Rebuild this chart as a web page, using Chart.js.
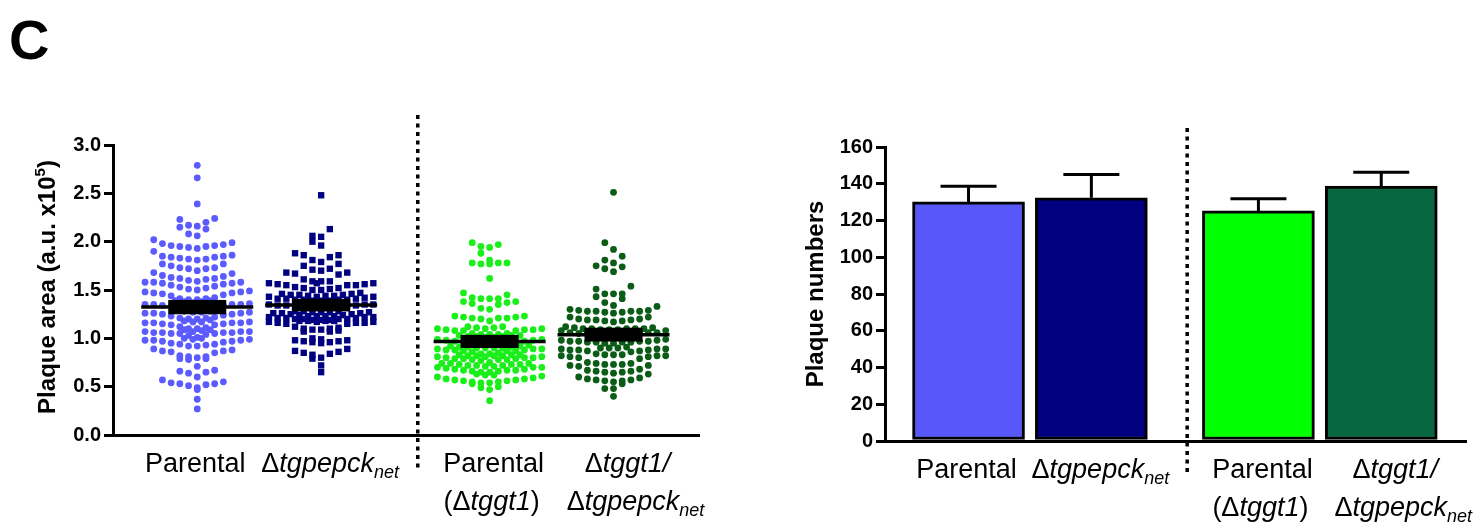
<!DOCTYPE html>
<html>
<head>
<meta charset="utf-8">
<script src="https://cdn.jsdelivr.net/npm/chart.js@4.4.1/dist/chart.umd.min.js"></script>
<style>
  html, body { margin: 0; padding: 0; background: #fff; }
  #wrap { position: relative; width: 1479px; height: 522px; overflow: hidden; }
  #areaBox { position: absolute; left: 0; top: 0; width: 740px; height: 522px; }
  #countBox { position: absolute; left: 740px; top: 0; width: 739px; height: 522px; }
</style>
</head>
<body>
<div id="wrap">
  <div id="areaBox"><canvas id="areaChart"></canvas></div>
  <div id="countBox"><canvas id="countChart"></canvas></div>
</div>
<script>
// ---- data ----
// category labels: *italic*, _{subscript}
const groups = [
    ['Parental'],
    ['Δ*tgpepck*_{net}'],
    ['Parental', '(Δ*tggt1*)'],
    ['Δ*tggt1/*', 'Δ*tgpepck*_{net}']
];

// plaque area (a.u. x10^5), one value per plaque
const parentalArea = [
    2.79, 2.66, 2.39,
    2.24, 2.23, 2.20,
    2.17, 2.16, 2.15, 2.13,
    2.08, 2.06, 2.02,
    1.99, 1.98, 1.97, 1.96, 1.96, 1.95, 1.95, 1.94, 1.93,
    1.90,
    1.86, 1.85, 1.85, 1.84, 1.84, 1.83, 1.82, 1.82, 1.81,
    1.77, 1.77, 1.75, 1.73, 1.73, 1.72, 1.72, 1.70,
    1.68, 1.67, 1.65, 1.64, 1.63, 1.62, 1.62, 1.61, 1.60,
    1.59, 1.58, 1.58, 1.58, 1.57, 1.57, 1.56, 1.55, 1.54, 1.53, 1.52, 1.51, 1.50,
    1.49, 1.48, 1.48, 1.47, 1.47, 1.46, 1.45, 1.44,
    1.42, 1.41, 1.41, 1.40, 1.40, 1.39, 1.39, 1.38, 1.38, 1.37,
    1.36, 1.35, 1.35, 1.35, 1.35, 1.34, 1.34, 1.34, 1.34, 1.33, 1.33, 1.32, 1.31,
    1.29, 1.28, 1.28, 1.27, 1.27, 1.27, 1.26, 1.26, 1.26, 1.25, 1.25, 1.24, 1.23,
    1.22, 1.21, 1.21, 1.20, 1.20, 1.19,
    1.18, 1.17, 1.17, 1.17, 1.16, 1.16, 1.16, 1.16, 1.15, 1.15, 1.14, 1.14,
    1.12, 1.11, 1.10, 1.10, 1.09, 1.09, 1.08,
    1.07, 1.07, 1.07, 1.07, 1.06, 1.06, 1.06, 1.06, 1.05, 1.05, 1.05, 1.04, 1.03,
    1.01, 1.00, 1.00, 0.99, 0.99, 0.98, 0.98, 0.98, 0.97, 0.97,
    0.96, 0.95, 0.94, 0.94, 0.93, 0.92, 0.92,
    0.89, 0.88, 0.87, 0.87, 0.86, 0.85,
    0.82, 0.81, 0.81, 0.80, 0.79, 0.79, 0.78,
    0.71,
    0.67, 0.66, 0.65, 0.64,
    0.60,
    0.57, 0.55, 0.54, 0.53, 0.53, 0.52, 0.51, 0.49, 0.47,
    0.37, 0.27
];
const pepckArea = [
    2.48,
    2.13, 2.06, 2.05, 2.00, 1.96,
    1.88, 1.86, 1.86, 1.84, 1.81,
    1.79, 1.77, 1.75,
    1.72, 1.71, 1.70, 1.68, 1.68, 1.67, 1.66,
    1.61, 1.59, 1.59, 1.59, 1.57, 1.57, 1.57, 1.56, 1.56, 1.55, 1.55, 1.55,
    1.53, 1.52, 1.52, 1.51, 1.50, 1.50,
    1.47, 1.46, 1.46, 1.45, 1.45, 1.45, 1.44, 1.44, 1.44, 1.43, 1.43, 1.43, 1.42,
    1.41, 1.41, 1.41, 1.40, 1.40, 1.40, 1.40, 1.39, 1.39, 1.39, 1.38, 1.38, 1.38,
    1.36, 1.35, 1.35, 1.35, 1.34, 1.34, 1.34, 1.34, 1.33, 1.33, 1.33, 1.32, 1.32,
    1.29, 1.28, 1.28, 1.28, 1.27, 1.27, 1.27, 1.27, 1.26, 1.26, 1.26, 1.25, 1.25,
    1.24, 1.24, 1.23, 1.23, 1.23, 1.23, 1.22, 1.22, 1.22, 1.21, 1.21, 1.21, 1.20, 1.20, 1.20, 1.20, 1.19, 1.19,
    1.19, 1.18, 1.18, 1.18, 1.18, 1.17, 1.17, 1.17, 1.16, 1.16, 1.16, 1.15, 1.15,
    1.12, 1.11, 1.10, 1.10, 1.09, 1.09, 1.08, 1.07, 1.07,
    1.00, 0.99, 0.98, 0.98, 0.97, 0.97, 0.96, 0.96, 0.95,
    0.89, 0.87, 0.86, 0.85, 0.84, 0.83,
    0.80, 0.79,
    0.72, 0.65
];
const parentalGgt1Area = [
    1.99, 1.97, 1.95, 1.94, 1.88, 1.81, 1.78, 1.78, 1.78, 1.77, 1.77,
    1.62,
    1.47, 1.45, 1.42, 1.41, 1.41, 1.41, 1.38, 1.38, 1.37, 1.36, 1.35,
    1.31, 1.30,
    1.23, 1.23, 1.22, 1.22, 1.21, 1.21, 1.21, 1.20, 1.18,
    1.12, 1.12, 1.11, 1.11, 1.10, 1.10, 1.10, 1.09, 1.09, 1.09, 1.08, 1.08, 1.08,
    1.05, 1.05, 1.04, 1.04, 1.04, 1.03, 1.03, 1.03, 1.02, 1.02, 1.02, 1.01, 1.01,
    0.99, 0.99, 0.98, 0.98, 0.97, 0.97, 0.97, 0.96, 0.96, 0.96, 0.95, 0.95, 0.94,
    0.93, 0.92, 0.92, 0.91, 0.91, 0.91, 0.90, 0.90, 0.90, 0.90, 0.89, 0.89, 0.89, 0.88, 0.88, 0.88, 0.87, 0.87, 0.87, 0.86,
    0.85, 0.84, 0.84, 0.83, 0.83, 0.83, 0.82, 0.82, 0.82, 0.82, 0.81, 0.81, 0.81, 0.80, 0.80, 0.80, 0.79, 0.79, 0.79, 0.78, 0.78, 0.78, 0.77,
    0.75, 0.74, 0.74, 0.74, 0.73, 0.73, 0.73, 0.72, 0.72, 0.72, 0.71, 0.71, 0.70, 0.70, 0.70,
    0.69, 0.68, 0.68, 0.67, 0.67, 0.67, 0.66, 0.66, 0.65, 0.65,
    0.63, 0.62, 0.62, 0.61,
    0.60, 0.59, 0.58, 0.58, 0.57, 0.57, 0.56, 0.56, 0.55, 0.55, 0.54, 0.54, 0.53,
    0.50, 0.49, 0.47, 0.355
];
const ggt1PepckArea = [
    2.51,
    1.99, 1.92, 1.85, 1.81, 1.78,
    1.75, 1.74, 1.72, 1.69,
    1.54, 1.51, 1.46, 1.46, 1.46, 1.43, 1.41,
    1.37, 1.34, 1.33,
    1.30, 1.29, 1.29, 1.28, 1.28, 1.28, 1.28, 1.27, 1.27, 1.26,
    1.22, 1.22,
    1.20, 1.20, 1.19, 1.19, 1.19, 1.18, 1.18, 1.17,
    1.12, 1.11, 1.11, 1.10, 1.10, 1.10, 1.10, 1.10, 1.09, 1.09, 1.09, 1.08, 1.08,
    1.06, 1.06, 1.06, 1.05, 1.05, 1.05, 1.05, 1.05, 1.04, 1.04, 1.04, 1.03, 1.03,
    0.99, 0.98, 0.98, 0.97, 0.97, 0.97, 0.97, 0.96, 0.96, 0.96, 0.96, 0.95, 0.95,
    0.91, 0.90, 0.90, 0.90, 0.89, 0.89, 0.89, 0.88, 0.88, 0.88, 0.87, 0.87, 0.86,
    0.84, 0.83, 0.83, 0.83, 0.82, 0.82, 0.82, 0.81, 0.81, 0.80, 0.79,
    0.75, 0.74, 0.74, 0.73, 0.73, 0.73, 0.72, 0.72, 0.71,
    0.68, 0.67, 0.66, 0.66, 0.65, 0.65, 0.64, 0.63,
    0.60, 0.59, 0.58, 0.57, 0.57, 0.56, 0.56, 0.55, 0.53,
    0.48, 0.48, 0.40
];
const areaSeries = [parentalArea, pepckArea, parentalGgt1Area, ggt1PepckArea];

// plaque numbers: mean and upper error
const plaqueMeans = [130.1, 132.4, 125.2, 138.8];
const plaqueErrors = [8.5, 12.7, 6.7, 7.4];

const areaTicks = [0.0, 0.5, 1.0, 1.5, 2.0, 2.5, 3.0];
const countTicks = [0, 20, 40, 60, 80, 100, 120, 140, 160];

// ---- layout / style ----
const FONT = "'Liberation Sans', Arial, Helvetica, sans-serif";
const groupPos = [1, 2, 3.36, 4.36];
const dividerPos = 2.78;
const X_MIN = 0.32, X_MAX = 5.05;
const labelShift = [[-2, 9, 4, 14], [0, 0, 2, 22]];
const dotColors = ['#5b5bff', '#000080', '#1aef1a', '#0b5c17'];
const dotStyles = ['circle', 'rect', 'circle', 'circle'];
const dotRadius = [3.4, 4.5, 3.4, 3.4];
const barColors = ['#5858fa', '#000080', '#00ff00', '#066740'];
const COL_PX = 8.7;   // swarm column spacing
const ROW_PX = 8.7;   // swarm row height
const MAX_COLS = 13;

Chart.defaults.font.family = FONT;
Chart.defaults.color = '#000';

function yAxis(ticksArr, fmt, width) {
    return {
        min: ticksArr[0],
        max: ticksArr[ticksArr.length - 1],
        afterBuildTicks: function(s) { s.ticks = ticksArr.map(function(v) { return {value: v}; }); },
        afterFit: function(s) { s.width = width; },
        border: {display: true, color: '#000', width: 3},
        grid: {drawOnChartArea: false, drawTicks: true, tickLength: 9, tickWidth: 3,
               tickColor: '#000', color: '#000', lineWidth: 3},
        ticks: {color: '#000', padding: 3, font: {family: FONT, size: 20, weight: 'bold'}, callback: fmt}
    };
}

function xAxis() {
    return {
        type: 'linear', min: X_MIN, max: X_MAX, offset: false,
        afterFit: function(s) { s.height = 0; },
        border: {display: true, color: '#000', width: 3},
        grid: {display: false, offset: false},
        ticks: {display: false}
    };
}

// text with italic / subscript runs
function drawRich(ctx, line, cx, baseline) {
    const parts = [];
    line.split(/(\*[^*]+\*|_\{[^}]+\})/).forEach(function(tok) {
        if (!tok) return;
        if (tok[0] === '*') parts.push({t: tok.slice(1, -1), font: 'italic 27px ' + FONT, dy: 0});
        else if (tok[0] === '_') parts.push({t: tok.slice(2, -1), font: 'italic 18px ' + FONT, dy: 6});
        else parts.push({t: tok, font: '27px ' + FONT, dy: 0});
    });
    let w = 0;
    parts.forEach(function(p) { ctx.font = p.font; p.w = ctx.measureText(p.t).width; w += p.w; });
    let x = cx - w / 2;
    ctx.textAlign = 'left';
    ctx.textBaseline = 'alphabetic';
    ctx.fillStyle = '#000';
    parts.forEach(function(p) { ctx.font = p.font; ctx.fillText(p.t, x, baseline + p.dy); x += p.w; });
}

function drawYTitle(ctx, cx, cy, main, sup, tail) {
    ctx.save();
    ctx.translate(cx, cy);
    ctx.rotate(-Math.PI / 2);
    const big = 'bold 24px ' + FONT, small = 'bold 15px ' + FONT;
    ctx.font = big;
    const w1 = ctx.measureText(main).width;
    const w3 = tail ? ctx.measureText(tail).width : 0;
    ctx.font = small;
    const w2 = sup ? ctx.measureText(sup).width : 0;
    let x = -(w1 + w2 + w3) / 2;
    const base = 8.5;
    ctx.fillStyle = '#000';
    ctx.textAlign = 'left';
    ctx.textBaseline = 'alphabetic';
    ctx.font = big; ctx.fillText(main, x, base); x += w1;
    if (sup) { ctx.font = small; ctx.fillText(sup, x, base - 10); x += w2; }
    if (tail) { ctx.font = big; ctx.fillText(tail, x, base); }
    ctx.restore();
}

function drawDivider(chart, top, bottom) {
    const ctx = chart.ctx;
    const x = chart.scales.x.getPixelForValue(dividerPos);
    ctx.save();
    ctx.strokeStyle = '#000';
    ctx.lineWidth = 3.5;
    ctx.setLineDash([4, 4.5]);
    ctx.beginPath();
    ctx.moveTo(x, top);
    ctx.lineTo(x, bottom);
    ctx.stroke();
    ctx.restore();
}

function drawGroupLabels(chart) {
    const ctx = chart.ctx;
    const base = chart.chartArea.bottom;
    groups.forEach(function(lines, i) {
        const cx = chart.scales.x.getPixelForValue(groupPos[i]);
        lines.forEach(function(line, r) {
            drawRich(ctx, line, cx + labelShift[r][i], base + 37 + r * 38);
        });
    });
}

function slot(j) {
    const k = j % (2 * MAX_COLS - 1);
    if (k < MAX_COLS) {
        if (k === 0) return 0;
        const n = Math.ceil(k / 2);
        return k % 2 === 1 ? -n : n;
    }
    const m = k - MAX_COLS;
    const n = Math.floor(m / 2) + 0.5;
    return m % 2 === 0 ? -n : n;
}

// spread the points of each group into rows and columns
function swarm(chart) {
    const xs = chart.scales.x, ys = chart.scales.y;
    chart.data.datasets.forEach(function(ds, i) {
        const cx = xs.getPixelForValue(groupPos[i]);
        const pts = areaSeries[i].map(function(v) { return {v: v, py: ys.getPixelForValue(v)}; })
            .sort(function(a, b) { return a.py - b.py; });
        const out = [];
        let k = 0;
        while (k < pts.length) {
            const start = pts[k].py;
            const row = [];
            while (k < pts.length && pts[k].py - start < ROW_PX) row.push(pts[k++]);
            row.sort(function(a, b) { return a.v - b.v; });
            row.forEach(function(p, j) {
                out.push({x: xs.getValueForPixel(cx + slot(j) * COL_PX), y: p.v});
            });
        }
        ds.data = out;
    });
    chart.update('none');
}

function meanSem(vals) {
    const n = vals.length;
    const mean = vals.reduce(function(a, b) { return a + b; }, 0) / n;
    const ss = vals.reduce(function(a, b) { return a + (b - mean) * (b - mean); }, 0);
    return {mean: mean, sem: Math.sqrt(ss / (n - 1)) / Math.sqrt(n)};
}

const areaDecor = {
    id: 'areaDecor',
    afterDatasetsDraw: function(chart) {
        const ctx = chart.ctx, xs = chart.scales.x, ys = chart.scales.y;
        ctx.save();
        ctx.fillStyle = '#000';
        ctx.strokeStyle = '#000';
        areaSeries.forEach(function(vals, i) {
            const st = meanSem(vals);
            const cx = xs.getPixelForValue(groupPos[i]);
            const py = ys.getPixelForValue(st.mean);
            ctx.lineWidth = 3.5;
            ctx.beginPath();
            ctx.moveTo(cx - 56, py);
            ctx.lineTo(cx + 56, py);
            ctx.stroke();
            const t = ys.getPixelForValue(st.mean + st.sem) - 4;
            const b = ys.getPixelForValue(st.mean - st.sem) + 4;
            ctx.fillRect(cx - 29, t, 58, b - t);
        });
        ctx.restore();
    },
    afterDraw: function(chart) {
        const ctx = chart.ctx;
        drawDivider(chart, 115, 468);
        drawGroupLabels(chart);
        drawYTitle(ctx, 46, 287, 'Plaque area (a.u. x10', '5', ')');
        ctx.save();
        ctx.fillStyle = '#000';
        ctx.font = 'bold 56px ' + FONT;
        ctx.textAlign = 'left';
        ctx.textBaseline = 'alphabetic';
        ctx.fillText('C', 9, 59);
        ctx.restore();
    }
};

const countDecor = {
    id: 'countDecor',
    afterDatasetsDraw: function(chart) {
        const ctx = chart.ctx, ys = chart.scales.y;
        const bars = chart.getDatasetMeta(0).data;
        ctx.save();
        ctx.strokeStyle = '#000';
        ctx.lineWidth = 3;
        bars.forEach(function(bar, i) {
            const top = ys.getPixelForValue(plaqueMeans[i]);
            const err = ys.getPixelForValue(plaqueMeans[i] + plaqueErrors[i]);
            ctx.beginPath();
            ctx.moveTo(bar.x, top);
            ctx.lineTo(bar.x, err);
            ctx.moveTo(bar.x - 28, err);
            ctx.lineTo(bar.x + 28, err);
            ctx.stroke();
        });
        ctx.restore();
    },
    afterDraw: function(chart) {
        drawDivider(chart, 128, 473);
        drawGroupLabels(chart);
        drawYTitle(chart.ctx, 74, 294, 'Plaque numbers');
    }
};

const areaChart = new Chart(document.getElementById('areaChart'), {
    type: 'scatter',
    data: {
        datasets: areaSeries.map(function(vals, i) {
            return {
                data: vals.map(function(v) { return {x: groupPos[i], y: v}; }),
                pointStyle: dotStyles[i],
                pointRadius: dotRadius[i],
                pointBorderWidth: 0,
                backgroundColor: dotColors[i],
                borderColor: dotColors[i]
            };
        })
    },
    options: {
        responsive: true,
        maintainAspectRatio: false,
        animation: false,
        events: [],
        layout: {padding: {left: 0, right: 41, top: 145, bottom: 87}},
        plugins: {legend: {display: false}, tooltip: {enabled: false}},
        scales: {
            x: xAxis(),
            y: yAxis(areaTicks, function(v) { return v.toFixed(1); }, 113)
        }
    },
    plugins: [areaDecor]
});
swarm(areaChart);

const countChart = new Chart(document.getElementById('countChart'), {
    type: 'bar',
    data: {
        datasets: [{
            data: plaqueMeans.map(function(v, i) { return {x: groupPos[i], y: v}; }),
            backgroundColor: barColors,
            borderColor: '#000',
            borderWidth: 3,
            borderSkipped: false,
            barThickness: 112
        }]
    },
    options: {
        responsive: true,
        maintainAspectRatio: false,
        animation: false,
        events: [],
        layout: {padding: {left: 0, right: 13, top: 147, bottom: 81}},
        plugins: {legend: {display: false}, tooltip: {enabled: false}},
        scales: {
            x: xAxis(),
            y: yAxis(countTicks, function(v) { return String(v); }, 145)
        }
    },
    plugins: [countDecor]
});
</script>
</body>
</html>
